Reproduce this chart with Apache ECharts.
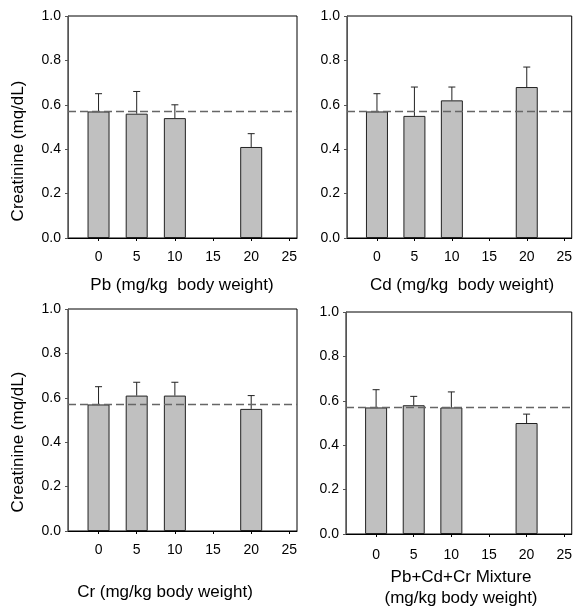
<!DOCTYPE html>
<html>
<head>
<meta charset="utf-8">
<script src="https://cdn.jsdelivr.net/npm/echarts@6/dist/echarts.min.js"></script>
<style>
html,body{margin:0;padding:0;background:#fff;}
#c{width:575px;height:613px;}
</style>
</head>
<body>
<div id="c"></div>
<script>
// ---- data ----
var doses = [0, 5, 10, 20];
var xTicks = [0, 5, 10, 15, 20, 25];
var yTicks = [0, 0.2, 0.4, 0.6, 0.8, 1.0];
var controlLevel = 0.57;

var pbMean = [0.57, 0.56, 0.54, 0.41];
var pbErr  = [0.08, 0.10, 0.06, 0.06];
var cdMean = [0.57, 0.55, 0.62, 0.68];
var cdErr  = [0.08, 0.13, 0.06, 0.09];
var crMean = [0.57, 0.61, 0.61, 0.55];
var crErr  = [0.08, 0.06, 0.06, 0.06];
var mixMean = [0.57, 0.58, 0.57, 0.50];
var mixErr  = [0.08, 0.04, 0.07, 0.04];

var yTitle = 'Creatinine (mq/dL)';
var xTitles = [
  ['Pb (mg/kg  body weight)'],
  ['Cd (mg/kg  body weight)'],
  ['Cr (mg/kg body weight)'],
  ['Pb+Cd+Cr Mixture', '(mg/kg body weight)']
];
var panelMeans = [pbMean, cdMean, crMean, mixMean];
var panelErrs = [pbErr, cdErr, crErr, mixErr];

// ---- layout ----
var FONT = "'Liberation Sans', Arial, sans-serif";
var grids = [
  {left: 68, top: 16, width: 229, height: 222},
  {left: 347, top: 16, width: 229, height: 222},
  {left: 68, top: 309, width: 229, height: 222},
  {left: 346, top: 312, width: 229, height: 222}
];
var labelMargins = [12, 12, 12, 14];
var titleY = [[285], [285], [592], [577, 598]];
var titleX = [182, 462, 165, 461];

var option = {
  animation: false,
  backgroundColor: '#fff',
  grid: grids.map(function (g) {
    return {left: g.left, top: g.top, width: g.width, height: g.height,
      show: true, borderColor: '#000', borderWidth: 1, backgroundColor: 'transparent'};
  }),
  xAxis: grids.map(function (g, i) {
    return {
      type: 'value', gridIndex: i, min: -4, max: 26,
      splitLine: {show: false},
      axisLine: {show: true, onZero: false, lineStyle: {color: '#000', width: 1}},
      axisTick: {show: true, inside: false, length: 3, customValues: xTicks, lineStyle: {color: '#000'}},
      axisLabel: {show: true, margin: labelMargins[i], customValues: xTicks, color: '#000', fontSize: 14, fontFamily: FONT,
        formatter: function (v) { return String(v); }}
    };
  }),
  yAxis: grids.map(function (g, i) {
    return {
      type: 'value', gridIndex: i, min: 0, max: 1.0, interval: 0.2,
      splitLine: {show: false},
      axisLine: {show: true, onZero: false, lineStyle: {color: '#555', width: 1}},
      axisTick: {show: true, inside: false, length: 3, lineStyle: {color: '#555'}},
      axisLabel: {show: true, margin: 7, color: '#000', fontSize: 14, fontFamily: FONT,
        formatter: function (v) { return v.toFixed(1); }}
    };
  }),
  series: [],
  graphic: []
};

panelMeans.forEach(function (means, i) {
  var errs = panelErrs[i];
  option.series.push({
    type: 'bar', xAxisIndex: i, yAxisIndex: i, barWidth: 22,
    data: doses.map(function (d, k) { return [d, means[k]]; }),
    itemStyle: {color: '#c0c0c0', borderColor: '#222', borderWidth: 1},
    z: 2,
    markLine: {
      silent: true, symbol: 'none', label: {show: false},
      lineStyle: {type: [8, 4], color: '#666', width: 1.3},
      data: [{yAxis: controlLevel}],
      z: 5
    }
  });
  option.series.push({
    type: 'custom', xAxisIndex: i, yAxisIndex: i, z: 4,
    encode: {x: 0, y: [1, 2]},
    data: doses.map(function (d, k) { return [d, means[k], means[k] + errs[k]]; }),
    renderItem: function (params, api) {
      var base = api.coord([api.value(0), api.value(1)]);
      var top = api.coord([api.value(0), api.value(2)]);
      return {
        type: 'group',
        children: [
          {type: 'line', shape: {x1: base[0], y1: base[1], x2: top[0], y2: top[1]},
            style: {stroke: '#222', lineWidth: 1}},
          {type: 'line', shape: {x1: top[0] - 3.5, y1: top[1], x2: top[0] + 3.5, y2: top[1]},
            style: {stroke: '#222', lineWidth: 1}}
        ]
      };
    }
  });
});

// axis titles
xTitles.forEach(function (lines, i) {
  lines.forEach(function (t, j) {
    option.graphic.push({
      type: 'text', x: titleX[i], y: titleY[i][j],
      style: {text: t, fontSize: 17, fontFamily: FONT, fill: '#000',
        textAlign: 'center', textVerticalAlign: 'middle'}
    });
  });
});
[[18, 151], [18, 442]].forEach(function (p) {
  option.graphic.push({
    type: 'text', x: p[0], y: p[1], rotation: Math.PI / 2,
    style: {text: yTitle, fontSize: 17, fontFamily: FONT, fill: '#000',
      textAlign: 'center', textVerticalAlign: 'middle'}
  });
});

var chart = echarts.init(document.getElementById('c'), null, {renderer: 'canvas'});
chart.setOption(option);
</script>
</body>
</html>
